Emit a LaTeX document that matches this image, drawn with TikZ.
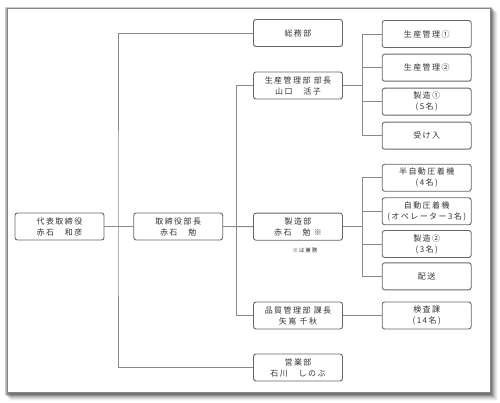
\documentclass[tikz,border=0pt]{standalone}
\usepackage{fontspec}
\setmainfont{Noto Sans CJK JP}[LetterSpace=18]
\usetikzlibrary{calc}
\definecolor{boxline}{HTML}{666666}
\definecolor{conn}{HTML}{8A8A8A}
\definecolor{txt}{HTML}{333333}
\tikzset{
  orgbox/.style={draw=boxline, line width=0.9pt, rounded corners=2.5pt, fill=white,
    minimum width=89pt, minimum height=27pt, inner sep=0pt, align=center,
    font=\fontsize{8pt}{11pt}\selectfont, text=txt},
  link/.style={draw=conn, line width=0.9pt},
}
\begin{document}
\begin{tikzpicture}[x=1pt,y=-1pt]
\useasboundingbox (0,0) rectangle (500,403);
% frame shadow
\foreach \d/\o in {8/0.03,7/0.05,6/0.07,5/0.09,4/0.12,3/0.16,2/0.2}{
  \fill[black,opacity=\o] (7+\d-4,9+\d-4) rectangle (490+\d,392.5+\d);
}
\fill[white] (7,9) rectangle (490,392.5);
\draw[draw=boxline!80, line width=1pt] (7,9) rectangle (490,392.5);

% nodes
\node[orgbox] (daihyo) at (59.5,226.5) {代表取締役\\赤石　和彦};
\node[orgbox] (tori) at (178.2,226.5) {取締役部長\\赤石　勉};
\node[orgbox] (somu) at (298,33) {総務部};
\node[orgbox] (seisan) at (298,85.5) {生産管理部 部長\\山口　活子};
\node[orgbox] (seizo) at (298,226.7) {製造部\\赤石　勉 ※};
\node[orgbox] (hinshitsu) at (298,315.5) {品質管理部 課長\\矢嶌 千秋};
\node[orgbox] (eigyo) at (298,367.5) {営業部\\石川　しのぶ};

\node[orgbox] (sk1) at (426.7,34) {生産管理①};
\node[orgbox] (sk2) at (426.7,67.7) {生産管理②};
\node[orgbox] (sz1) at (426.7,101.7) {製造①\\(5名)};
\node[orgbox] (uke) at (426.7,135.7) {受け入};
\node[orgbox] (han) at (426.7,177.8) {半自動圧着機\\(4名)};
\node[orgbox] (jido) at (426.7,211.3) {自動圧着機\\(オペレーター3名)};
\node[orgbox] (sz2) at (426.7,244) {製造②\\(3名)};
\node[orgbox] (haiso) at (426.7,276.3) {配送};
\node[orgbox] (kensa) at (426.7,315.5) {検査課\\(14名)};

\node[font=\fontsize{5.5pt}{6pt}\selectfont, text=txt] (kenmu) at (305,250) {※は兼務};

% junctions
\coordinate (j1) at (118,226.5);
\coordinate (j2) at (236.3,226.5);
\coordinate (j3) at (362.7,85.5);
\coordinate (j4) at (362.7,226.7);

% connectors
\draw[link] (daihyo.east) -- (tori.west);
\draw[link] (somu.west) -| (j1) |- (eigyo.west);
\draw[link] (tori.east) -- (seizo.west);
\draw[link] (seisan.west) -| (j2) |- (hinshitsu.west);
\draw[link] (seisan.east) -- (j3);
\draw[link] (sk1.west) -| (j3) |- (uke.west);
\draw[link] (sk2.west) -- (sk2.west -| j3);
\draw[link] (sz1.west) -- (sz1.west -| j3);
\draw[link] (seizo.east) -- (j4);
\draw[link] (han.west) -| (j4) |- (haiso.west);
\draw[link] (jido.west) -- (jido.west -| j4);
\draw[link] (sz2.west) -- (sz2.west -| j4);
\draw[link] (hinshitsu.east) -- (kensa.west);
\end{tikzpicture}
\end{document}
